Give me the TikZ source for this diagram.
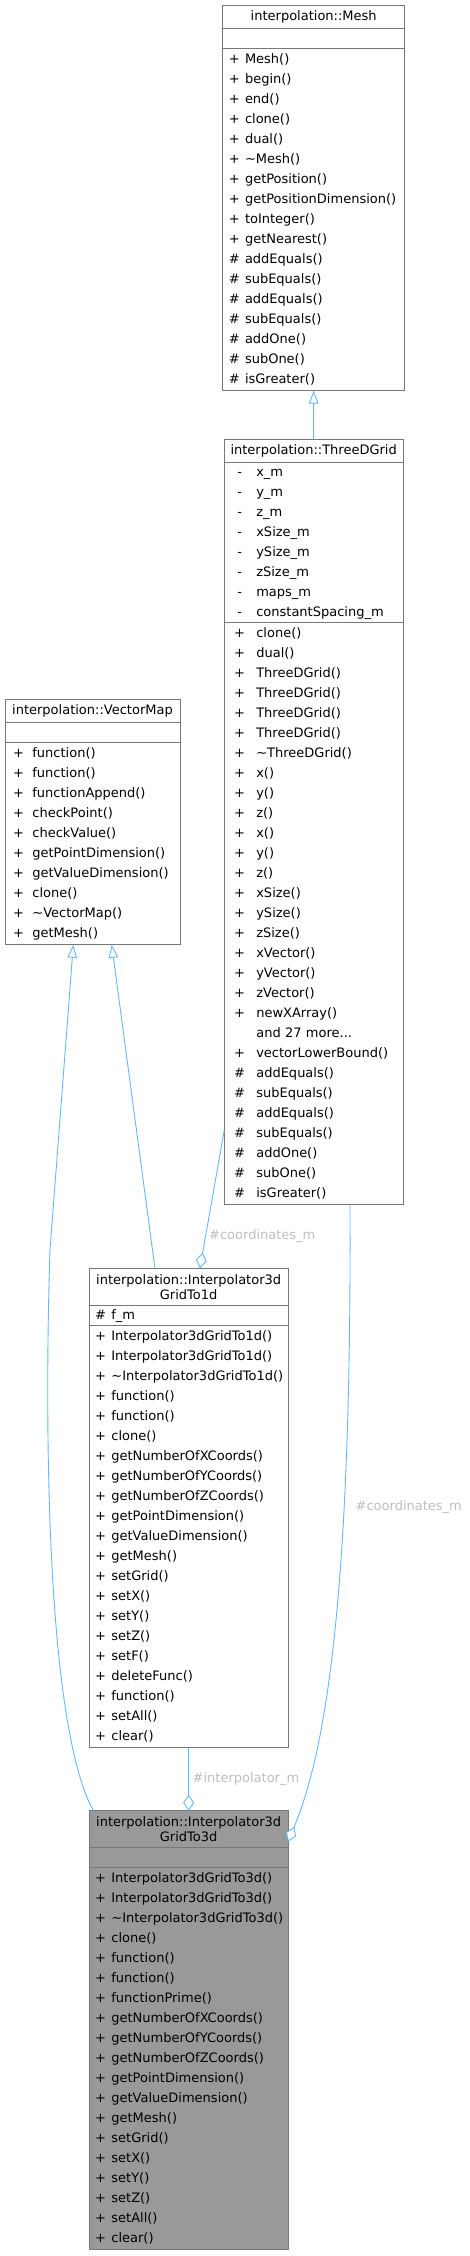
\documentclass[tikz,border=0pt]{standalone}
\usepackage{fontspec}
\setmainfont{DejaVu Sans}
\usepackage{array}
\usetikzlibrary{arrows.meta, positioning}

\definecolor{edgeblue}{HTML}{63B8FF}
\definecolor{boxline}{HTML}{777777}
\definecolor{lblgrey}{HTML}{BDBDBD}
\definecolor{focusfill}{HTML}{999999}

\begin{document}
\begin{tikzpicture}[
    x=1pt, y=-1pt,
    node distance=0pt,
    cls/.style={rectangle, draw=boxline, line width=0.8pt, outer sep=0pt, fill=white},
    classname/.style={cls, inner sep=0pt, minimum height=23.5pt, align=center,
                font=\fontsize{13}{15}\selectfont},
    nosec/.style={cls, minimum height=20pt},
    members/.style={cls, inner ysep=1pt, align=left, font=\fontsize{13}{20}\selectfont},
    fields/.style={members, inner ysep=0pt},
    inherit/.style={draw=edgeblue, line width=0.9pt,
                -{Triangle[length=13pt, width=9.5pt, fill=white]}},
    aggr/.style={draw=edgeblue, line width=0.9pt,
                -{Diamond[length=16pt, width=11pt, fill=white]}},
    role/.style={text=lblgrey, anchor=west, inner sep=0pt, font=\fontsize{13}{15}\selectfont}
]
\useasboundingbox (0,0) rectangle (469,2256);

% === MESH ===
\node[classname, minimum width=182pt, anchor=north west] (mesh) at (222.7,5) {interpolation::Mesh};
\node[nosec, minimum width=182pt, below=of mesh] (meshA) {};
\node[members, text width=169.6pt, inner xsep=6.2pt, below=of meshA] (meshM) {%
\begin{tabular}{@{}w{c}{10.9pt}@{\hspace{5.2pt}}l@{}}
+ & Mesh()\\ + & begin()\\ + & end()\\ + & clone()\\ + & dual()\\
+ & \textasciitilde Mesh()\\ + & getPosition()\\ + & getPositionDimension()\\
+ & toInteger()\\ + & getNearest()\\ \# & addEquals()\\ \# & subEquals()\\
\# & addEquals()\\ \# & subEquals()\\ \# & addOne()\\ \# & subOne()\\ \# & isGreater()
\end{tabular}};

% === THREEDGRID ===
\node[classname, minimum width=178.7pt, anchor=north west] (tdg) at (224.3,439.3) {interpolation::ThreeDGrid};
\node[fields, text width=158.9pt, inner xsep=9.9pt, below=of tdg] (tdgA) {%
\begin{tabular}{@{}w{c}{10.9pt}@{\hspace{11.2pt}}l@{}}
- & x\_m\\ - & y\_m\\ - & z\_m\\ - & xSize\_m\\ - & ySize\_m\\ - & zSize\_m\\
- & maps\_m\\ - & constantSpacing\_m
\end{tabular}};
\node[members, text width=158.9pt, inner xsep=9.9pt, below=of tdgA] (tdgM) {%
\begin{tabular}{@{}w{c}{10.9pt}@{\hspace{11.2pt}}l@{}}
+ & clone()\\ + & dual()\\ + & ThreeDGrid()\\ + & ThreeDGrid()\\ + & ThreeDGrid()\\
+ & ThreeDGrid()\\ + & \textasciitilde ThreeDGrid()\\ + & x()\\ + & y()\\ + & z()\\
+ & x()\\ + & y()\\ + & z()\\ + & xSize()\\ + & ySize()\\ + & zSize()\\
+ & xVector()\\ + & yVector()\\ + & zVector()\\ + & newXArray()\\ & and 27 more...\\
+ & vectorLowerBound()\\ \# & addEquals()\\ \# & subEquals()\\ \# & addEquals()\\
\# & subEquals()\\ \# & addOne()\\ \# & subOne()\\ \# & isGreater()
\end{tabular}};

% === VECTORMAP ===
\node[classname, minimum width=175pt, anchor=north west] (vmap) at (5,699.3) {interpolation::VectorMap};
\node[nosec, minimum width=175pt, below=of vmap] (vmapA) {};
\node[members, text width=158.6pt, inner xsep=8.2pt, below=of vmapA] (vmapM) {%
\begin{tabular}{@{}w{c}{10.9pt}@{\hspace{8.3pt}}l@{}}
+ & function()\\ + & function()\\ + & functionAppend()\\ + & checkPoint()\\
+ & checkValue()\\ + & getPointDimension()\\ + & getValueDimension()\\
+ & clone()\\ + & \textasciitilde VectorMap()\\ + & getMesh()
\end{tabular}};

% === INTERPOLATOR3DGRIDTO1D ===
\node[classname, minimum width=198.7pt, minimum height=37.4pt, anchor=north west] (i1d)
    at (89.3,1268.3) {interpolation::Interpolator3d\\GridTo1d};
\node[fields, text width=186.9pt, inner xsep=5.9pt, below=of i1d] (i1dA) {%
\begin{tabular}{@{}w{c}{10.9pt}@{\hspace{5.3pt}}l@{}}
\# & f\_m
\end{tabular}};
\node[members, text width=186.9pt, inner xsep=5.9pt, below=of i1dA] (i1dM) {%
\begin{tabular}{@{}w{c}{10.9pt}@{\hspace{5.3pt}}l@{}}
+ & Interpolator3dGridTo1d()\\ + & Interpolator3dGridTo1d()\\
+ & \textasciitilde Interpolator3dGridTo1d()\\ + & function()\\ + & function()\\
+ & clone()\\ + & getNumberOfXCoords()\\ + & getNumberOfYCoords()\\
+ & getNumberOfZCoords()\\ + & getPointDimension()\\ + & getValueDimension()\\
+ & getMesh()\\ + & setGrid()\\ + & setX()\\ + & setY()\\ + & setZ()\\ + & setF()\\
+ & deleteFunc()\\ + & function()\\ + & setAll()\\ + & clear()
\end{tabular}};

% === INTERPOLATOR3DGRIDTO3D ===
\node[classname, fill=focusfill, minimum width=198.7pt, minimum height=37pt, anchor=north west] (i3d)
    at (89.3,1810.7) {interpolation::Interpolator3d\\GridTo3d};
\node[nosec, fill=focusfill, minimum width=198.7pt, below=of i3d] (i3dA) {};
\node[members, fill=focusfill, text width=186.9pt, inner xsep=5.9pt, below=of i3dA] (i3dM) {%
\begin{tabular}{@{}w{c}{10.9pt}@{\hspace{5.3pt}}l@{}}
+ & Interpolator3dGridTo3d()\\ + & Interpolator3dGridTo3d()\\
+ & \textasciitilde Interpolator3dGridTo3d()\\ + & clone()\\ + & function()\\
+ & function()\\ + & functionPrime()\\ + & getNumberOfXCoords()\\
+ & getNumberOfYCoords()\\ + & getNumberOfZCoords()\\ + & getPointDimension()\\
+ & getValueDimension()\\ + & getMesh()\\ + & setGrid()\\ + & setX()\\ + & setY()\\
+ & setZ()\\ + & setAll()\\ + & clear()
\end{tabular}};

% === ARROWS ===
\coordinate (bendL) at (50,1250);
\draw[inherit] (tdg) -- (meshM);
\draw[inherit] ([xshift=-33.7pt]i1d.north) -- ([xshift=19.2pt]vmapM.south);
\draw[inherit] ([xshift=4pt]i3d.north west) .. controls (44,1720) and (45,1400) .. (bendL)
    -- ([xshift=-19.2pt]vmapM.south);
\draw[aggr] ([yshift=75pt]tdgM.south west) -- ([xshift=11.3pt]i1d.north);
\draw[aggr] (i1dM) -- (i3d);
\draw[aggr] ([xshift=36.3pt]tdgM.south) .. controls (352,1620) and (322,1760)
    .. ([yshift=-31pt]i3d.north east);

% === LABELS ===
\node[role] (coordL) at (209,1236) {\#coordinates\_m};
\node[role] (interpL) at (192.5,1779) {\#interpolator\_m};
\node[role] (coordR) at (355.5,1507) {\#coordinates\_m};

\end{tikzpicture}
\end{document}
